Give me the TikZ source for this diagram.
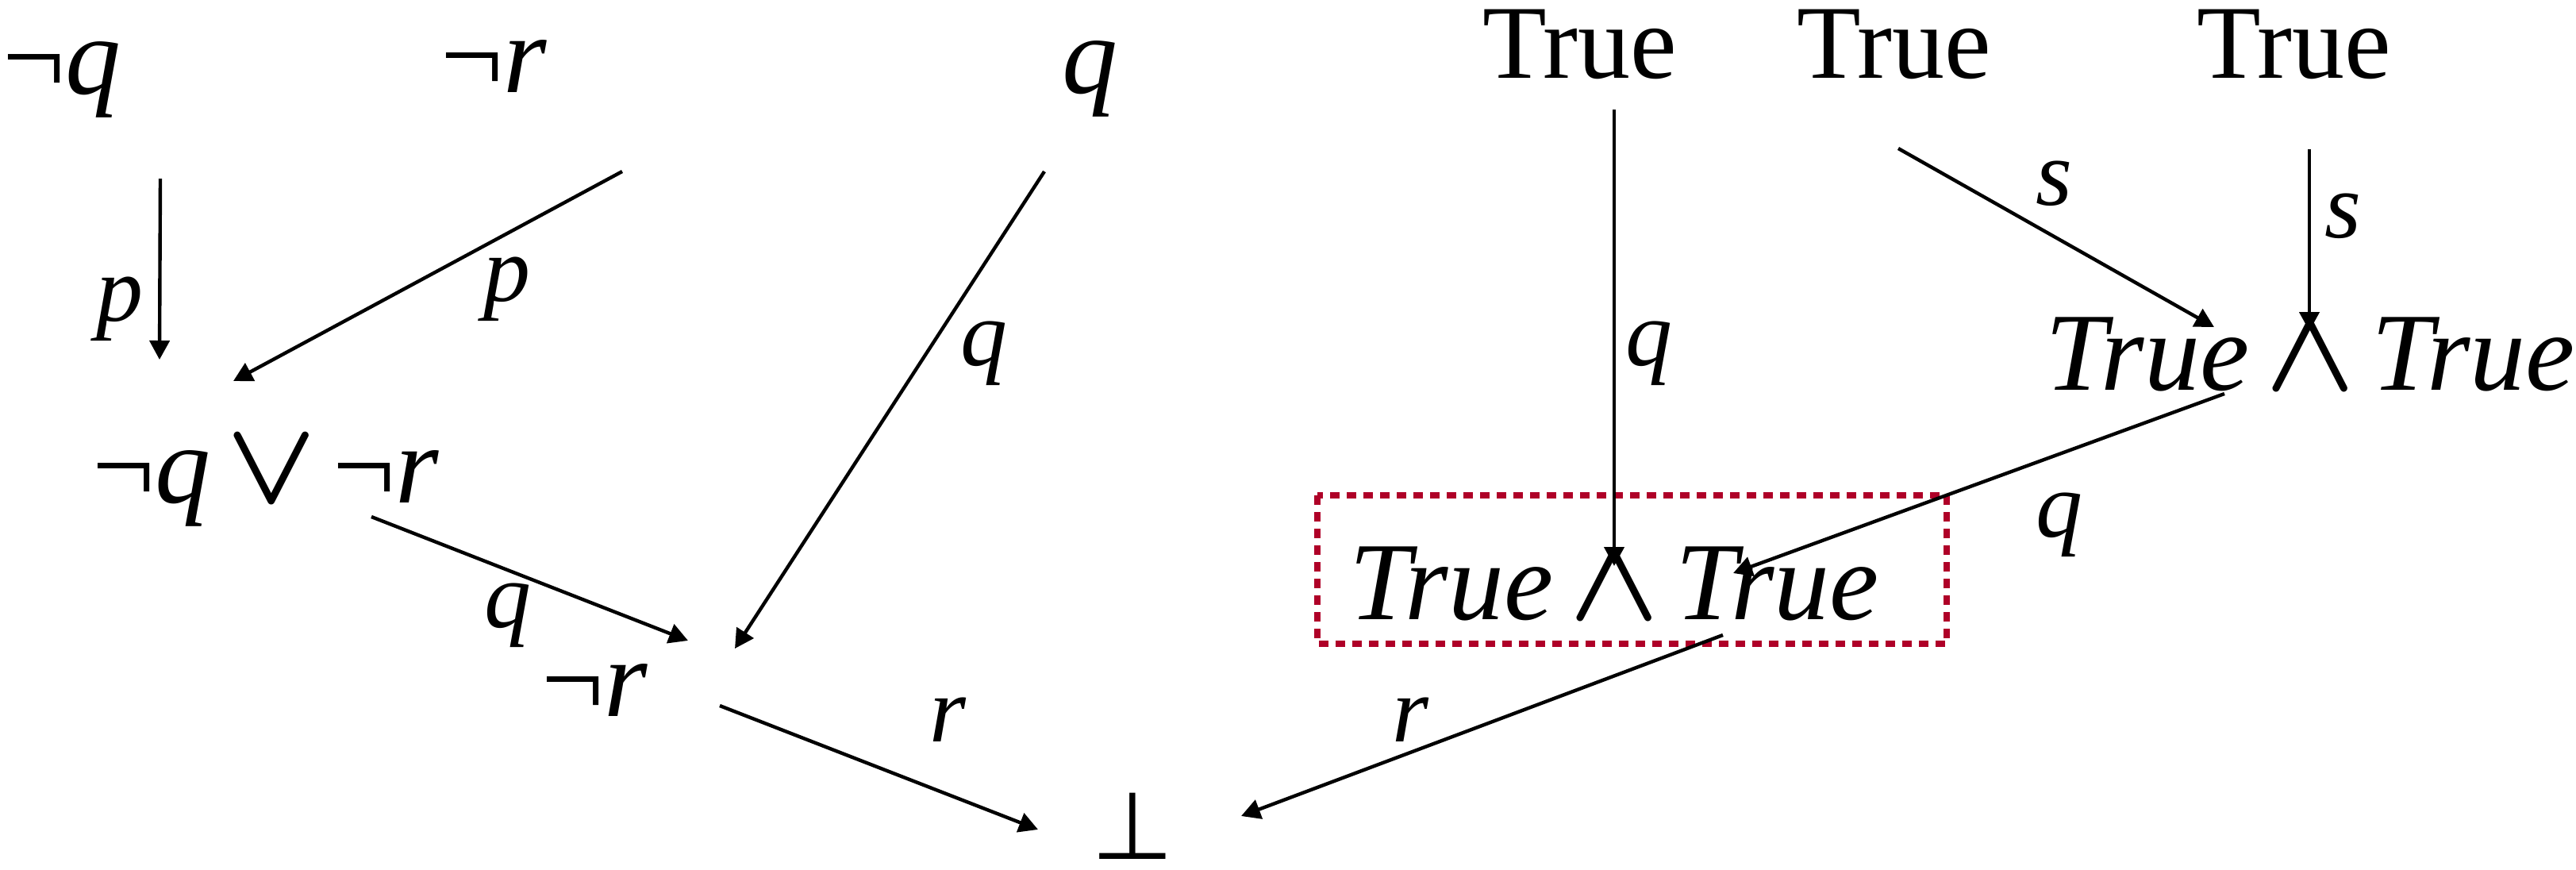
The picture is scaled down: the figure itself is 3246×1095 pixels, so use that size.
\documentclass[tikz,border=0pt]{standalone}
\usepackage{fix-cm}
\usepackage{fontspec}
\setmainfont{Liberation Serif}
\newfontfamily\symfont[Scale=0.85]{DejaVu Sans}
\usetikzlibrary{arrows.meta,calc}
\definecolor{boxred}{RGB}{175,0,40}
\newcommand\myneg{{\upshape ¬}}
\newcommand\myand{{\fontsize{37}{44}\selectfont\boldmath$\wedge$}}
\newcommand\myor{{\fontsize{37}{44}\selectfont\boldmath$\vee$}}
\newcommand\mybot{{\symfont\upshape ⊥}}
\begin{document}
\begin{tikzpicture}[x=0.25pt,y=-0.25pt,
  formula/.style={inner sep=0pt, anchor=base west, font=\fontsize{35}{42}\selectfont\itshape},
  plain/.style={inner sep=0pt, anchor=base west, font=\fontsize{33}{40}\selectfont},
  lbl/.style={inner sep=0pt, anchor=base west, font=\fontsize{29.5}{36}\selectfont\itshape},
  arr/.style={line width=1.1pt, -{Triangle[length=6pt,width=6.25pt]}},
  dotbox/.style={draw=boxred, line width=2pt, dash pattern=on 3pt off 2.25pt}]
\useasboundingbox (0,0) rectangle (3246,1095);
% nodes
\node[formula] (nq) at (3,118) {\myneg q};
\node[formula] (nr) at (555,116) {\myneg r};
\node[formula] (q) at (1338,117) {q};
\node[plain] (T1) at (1868,98) {True};
\node[plain] (T2) at (2264,98) {True};
\node[plain] (T3) at (2768,98) {True};
\node[formula] (or) at (116,633) {\myneg q\hspace{5pt}\myor\hspace{5pt}\myneg r};
\node[formula] (nr2) at (682,902) {\myneg r};
\node[formula] (and1) at (1700,780) {True\hspace{5pt}\myand\hspace{5pt}True};
\node[formula] (and2) at (2577,491) {True\hspace{5pt}\myand\hspace{5pt}True};
\node[formula, anchor=base] (bot) at (1427,1082) {\mybot};
% highlight box
\draw[dotbox] ($(and1.base west)+(-40,-156)$) rectangle ($(and1.base west)+(753,31)$);
% edge labels
\node[lbl] (l1) at (121,404) {p};
\node[lbl] (l2) at (609,379) {p};
\node[lbl] (l3) at (1210,460) {q};
\node[lbl] (l4) at (610,790) {q};
\node[lbl] (l5) at (1171,934) {r};
\node[lbl] (l6) at (1754,934) {r};
\node[lbl] (l7) at (2048,460) {q};
\node[lbl] (l8) at (2565,258) {s};
\node[lbl] (l9) at (2929,299) {s};
\node[lbl] (l10) at (2565,676) {q};
% edges
\draw[arr] ($(nq.base west)+(199,107)$) -- ($(or.base west)+(85,-180)$);
\draw[arr] ($(nr.base west)+(229,100)$) -- ($(or.base west)+(178,-153)$);
\draw[arr] ($(q.base west)+(-22,99)$) -- ($(nr2.base west)+(244,-85)$);
\draw[arr] ($(or.base west)+(352,18)$) -- ($(nr2.base west)+(185,-95)$);
\draw[arr] ($(nr2.base west)+(225,-13)$) -- ($(bot.base)+(-119,-37)$);
\draw[arr] ($(and1.base west)+(471,20)$) -- ($(bot.base)+(137,-54)$);
\draw[arr] ($(T1.base west)+(166,40)$) -- ($(and1.base west)+(334,-67)$);
\draw[arr] ($(T2.base west)+(128,89)$) -- ($(and2.base west)+(213,-79)$);
\draw[arr] ($(T3.base west)+(142,90)$) -- ($(and2.base west)+(333,-74)$);
\draw[arr] ($(and2.base west)+(226,5)$) -- ($(and1.base west)+(484,-58)$);
\end{tikzpicture}
\end{document}
